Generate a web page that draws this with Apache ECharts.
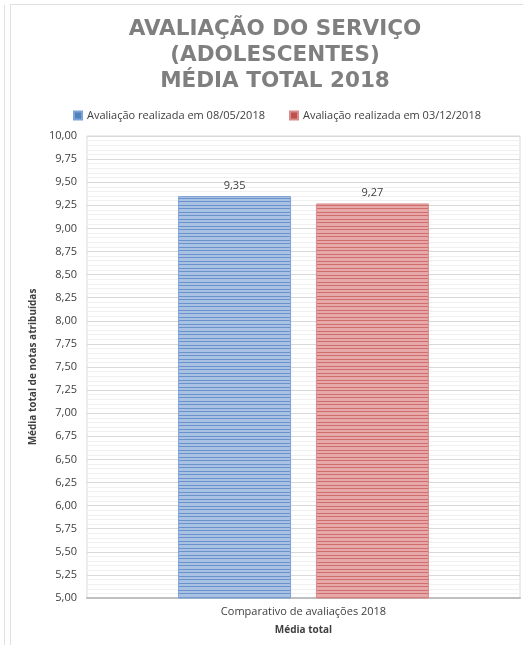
<!DOCTYPE html>
<html>
<head>
<meta charset="utf-8">
<script src="https://cdn.jsdelivr.net/npm/echarts@6/dist/echarts.min.js"></script>
<style>
html,body{margin:0;padding:0;background:#fff;}
#chart{width:523px;height:645px;}
</style>
</head>
<body>
<div id="chart"></div>
<script>
var categories = ['Comparativo de avaliações 2018'];
var seriesNames = ['Avaliação realizada em 08/05/2018', 'Avaliação realizada em 03/12/2018'];
var valuesMay = [9.35];
var valuesDec = [9.27];
var yMin = 5, yMax = 10, yStep = 0.25;

function stripes(base, line) {
  var c = document.createElement('canvas');
  c.width = 4; c.height = 7;
  var g = c.getContext('2d');
  g.fillStyle = base; g.fillRect(0, 0, 4, 7);
  g.fillStyle = line; g.fillRect(0, 2, 4, 1); g.fillRect(0, 5, 4, 1);
  return c;
}
function fmt(v) { return v.toFixed(2).replace('.', ','); }

var chart = echarts.init(document.getElementById('chart'), null, {renderer: 'canvas'});
var font = 'Open Sans';
chart.setOption({
  backgroundColor: '#fff',
  animation: false,
  color: ['#4f81bd', '#c0504d'],
  title: {
    text: 'AVALIAÇÃO DO SERVIÇO\n(ADOLESCENTES)\nMÉDIA TOTAL 2018',
    left: 270, top: 11, textAlign: 'center',
    textStyle: {fontFamily: 'DejaVu Sans', fontSize: 21.5, fontWeight: 'bold', color: '#7f7f7f', lineHeight: 26, align: 'center'}
  },
  legend: {
    top: 105, left: 68, itemWidth: 8, itemHeight: 8, itemGap: 24,
    icon: 'rect',
    textStyle: {fontFamily: font, fontSize: 11, color: '#404040'},
    data: [{name: seriesNames[0], itemStyle: {color: '#4f81bd'}}, {name: seriesNames[1], itemStyle: {color: '#c0504d'}}]
  },
  graphic: [
    {type: 'line', shape: {x1: 4.5, y1: 5, x2: 4.5, y2: 645}, style: {stroke: '#e0e0e0', lineWidth: 1}},
    {type: 'line', shape: {x1: 10.5, y1: 4, x2: 10.5, y2: 645}, style: {stroke: '#e0e0e0', lineWidth: 1}},
    {type: 'line', shape: {x1: 10, y1: 4.5, x2: 523, y2: 4.5}, style: {stroke: '#e0e0e0', lineWidth: 1}}
  ],
  grid: {left: 87, right: 3, top: 136, bottom: 47, show: true, borderColor: '#d9d9d9', borderWidth: 1},
  xAxis: {
    type: 'category', data: categories,
    name: 'Média total', nameLocation: 'middle', nameGap: 27,
    nameTextStyle: {fontFamily: font, fontSize: 10, fontWeight: 'bold', color: '#404040'},
    axisLine: {lineStyle: {color: '#bfbfbf', width: 2}},
    axisTick: {show: false},
    axisLabel: {fontFamily: font, fontSize: 11, color: '#404040', margin: 8}
  },
  yAxis: {
    type: 'value', min: yMin, max: yMax, interval: yStep,
    name: 'Média total de notas atribuídas', nameLocation: 'middle', nameGap: 45,
    nameTextStyle: {fontFamily: font, fontSize: 10, fontWeight: 'bold', color: '#404040'},
    axisLine: {show: false}, axisTick: {show: false},
    axisLabel: {fontFamily: font, fontSize: 11, color: '#404040', margin: 10, formatter: fmt},
    splitLine: {lineStyle: {color: '#d9d9d9', width: 1}},
    minorTick: {show: false, splitNumber: 5},
    minorSplitLine: {show: true, lineStyle: {color: '#f0f0f0', width: 1}}
  },
  series: [
    {
      name: seriesNames[0], type: 'bar', data: valuesMay, barWidth: 113, barGap: '22%',
      itemStyle: {color: {image: stripes('#a9c2e4', '#6a93cc'), repeat: 'repeat'}, borderColor: '#7ea3d6', borderWidth: 1},
      label: {show: true, position: 'top', distance: 5, fontFamily: font, fontSize: 11, color: '#404040', formatter: function(p){return fmt(p.value);}}
    },
    {
      name: seriesNames[1], type: 'bar', data: valuesDec, barWidth: 113,
      itemStyle: {color: {image: stripes('#e6a8a8', '#d06e6e'), repeat: 'repeat'}, borderColor: '#d88c8c', borderWidth: 1},
      label: {show: true, position: 'top', distance: 5, fontFamily: font, fontSize: 11, color: '#404040', formatter: function(p){return fmt(p.value);}}
    }
  ]
});
</script>
</body>
</html>
